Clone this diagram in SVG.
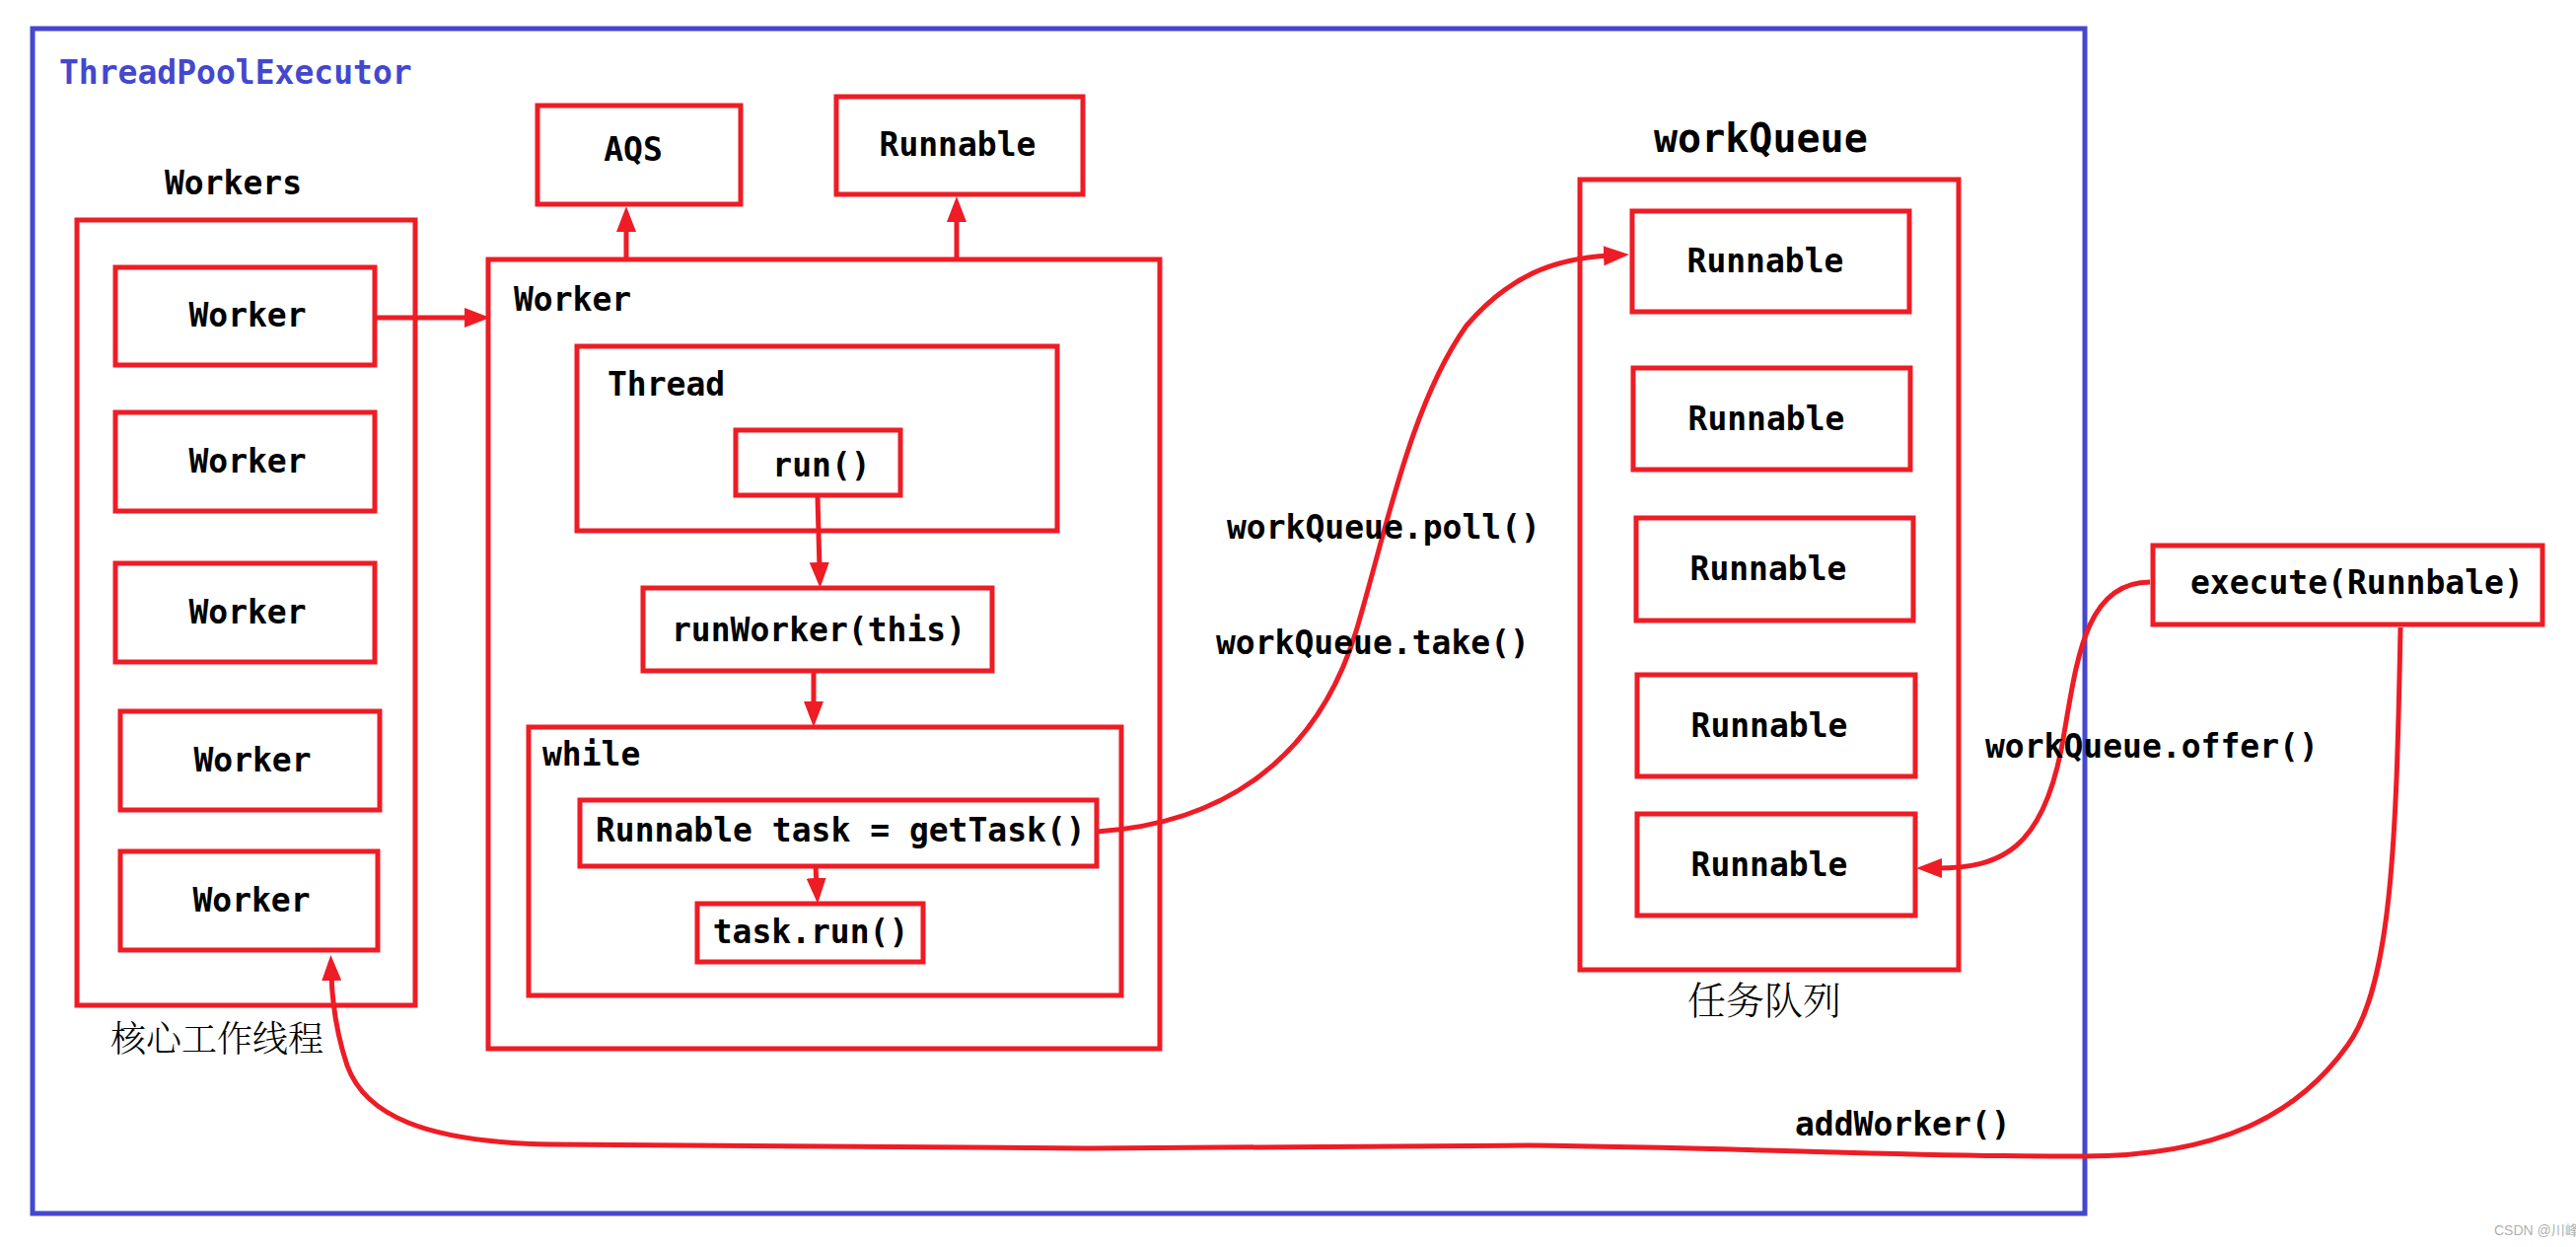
<svg xmlns="http://www.w3.org/2000/svg" width="2612" height="1264" viewBox="0 0 2612 1264">
<style>
.box{fill:none;stroke:#ee1c25;stroke-width:5;stroke-linejoin:miter}
.frame{fill:none;stroke:#4447cf;stroke-width:5}
.t{font-family:"DejaVu Sans Mono","Liberation Mono",monospace;font-size:33px;font-weight:bold;fill:#000}
.big{font-size:40px}
.c{text-anchor:middle}
.title{fill:#4447cf}
.cjk{font-family:"Noto Serif CJK SC","Noto Sans CJK SC","Noto Sans CJK JP",serif;font-weight:300;fill:#000}
.wire{fill:none;stroke:#ee1c25;stroke-width:5;marker-end:url(#ah)}
</style>
<defs>
<marker id="ah" viewBox="0 0 26 20" markerWidth="26" markerHeight="20" refX="6" refY="10" orient="auto" markerUnits="userSpaceOnUse">
<path d="M0,0 L26,10 L0,20 z" fill="#ee1c25"/>
</marker>
</defs>
<rect width="2612" height="1264" fill="#fff"/>
<g id="executor">
<rect class="frame" x="33" y="29" width="2081" height="1201"/>
<text class="t title" x="60" y="85">ThreadPoolExecutor</text>
</g>
<g id="workers">
<text class="t" x="167" y="197">Workers</text>
<rect class="box" x="78" y="223" width="343" height="796"/>
<text class="cjk" x="112" y="1066" font-size="36">核心工作线程</text>
</g>
<g id="worker1"><rect class="box" x="117" y="271" width="263" height="99"/><text class="t c" x="251" y="331">Worker</text></g>
<g id="worker2"><rect class="box" x="117" y="418" width="263" height="100"/><text class="t c" x="251" y="479">Worker</text></g>
<g id="worker3"><rect class="box" x="117" y="571" width="263" height="100"/><text class="t c" x="251" y="632">Worker</text></g>
<g id="worker4"><rect class="box" x="122" y="721" width="263" height="100"/><text class="t c" x="256" y="782">Worker</text></g>
<g id="worker5"><rect class="box" x="122" y="863" width="261" height="100"/><text class="t c" x="255" y="924">Worker</text></g>
<g id="aqs"><rect class="box" x="545" y="107" width="206" height="100"/><text class="t c" x="642" y="163">AQS</text></g>
<g id="runnable-top"><rect class="box" x="848" y="98" width="250" height="99"/><text class="t c" x="971" y="158">Runnable</text></g>
<g id="worker">
<rect class="box" x="495" y="263" width="681" height="800"/>
<text class="t" x="521" y="315">Worker</text>
</g>
<g id="thread">
<rect class="box" x="585" y="351" width="487" height="187"/>
<text class="t" x="616" y="401">Thread</text>
</g>
<g id="run"><rect class="box" x="746" y="436" width="167" height="66"/><text class="t c" x="833" y="483">run()</text></g>
<g id="runworker"><rect class="box" x="652" y="596" width="354" height="84"/><text class="t c" x="830" y="650">runWorker(this)</text></g>
<g id="while">
<rect class="box" x="536" y="737" width="601" height="272"/>
<text class="t" x="550" y="776">while</text>
</g>
<g id="gettask"><rect class="box" x="588" y="811" width="524" height="67"/><text class="t" x="604" y="853">Runnable task = getTask()</text></g>
<g id="taskrun"><rect class="box" x="707" y="916" width="229" height="59"/><text class="t c" x="822" y="956">task.run()</text></g>
<g id="workqueue">
<text class="t big" x="1677" y="154">workQueue</text>
<rect class="box" x="1602" y="182" width="384" height="801"/>
<text class="cjk" x="1711" y="1028" font-size="39">任务队列</text>
</g>
<g id="q1"><rect class="box" x="1655" y="214" width="281" height="102"/><text class="t c" x="1790" y="276">Runnable</text></g>
<g id="q2"><rect class="box" x="1656" y="373" width="281" height="103"/><text class="t c" x="1791" y="436">Runnable</text></g>
<g id="q3"><rect class="box" x="1659" y="525" width="281" height="104"/><text class="t c" x="1793" y="588">Runnable</text></g>
<g id="q4"><rect class="box" x="1660" y="684" width="282" height="103"/><text class="t c" x="1794" y="747">Runnable</text></g>
<g id="q5"><rect class="box" x="1660" y="825" width="282" height="103"/><text class="t c" x="1794" y="888">Runnable</text></g>
<g id="execute"><rect class="box" x="2183" y="553" width="395" height="80"/><text class="t" x="2221" y="602">execute(Runnbale)</text></g>
<g id="connectors">
<path class="wire" d="M380,322 L477,322"/>
<path class="wire" d="M635,263 L635,229"/>
<path class="wire" d="M970,263 L970,219"/>
<path class="wire" d="M829,503 L831,576"/>
<path class="wire" d="M825,680 L825,717"/>
<path class="wire" d="M827,878 L828,896"/>
<path class="wire" d="M1112,843 C1240,835 1335,770 1375,640 C1405,540 1430,410 1487,330 C1530,280 1575,262 1632,259"/>
<path class="wire" d="M2180,590 C2110,590 2105,680 2090,760 C2070,860 2030,880 1963,880"/>
<path class="wire" d="M2434,636 C2430,850 2425,1000 2380,1060 C2330,1130 2250,1172 2112,1172 C1950,1173 1800,1164 1550,1161 L1103,1164 L560,1160 C430,1158 370,1130 352,1080 C342,1050 337,1020 336,988"/>
<text class="t" x="1244" y="546">workQueue.poll()</text>
<text class="t" x="1233" y="663">workQueue.take()</text>
<text class="t" x="2013" y="768">workQueue.offer()</text>
<text class="t" x="1820" y="1151">addWorker()</text>
</g>
<text x="2529" y="1252" font-family="Liberation Sans,Noto Sans CJK SC,sans-serif" font-size="14" fill="#b0b0b0">CSDN @川峰</text>
</svg>
